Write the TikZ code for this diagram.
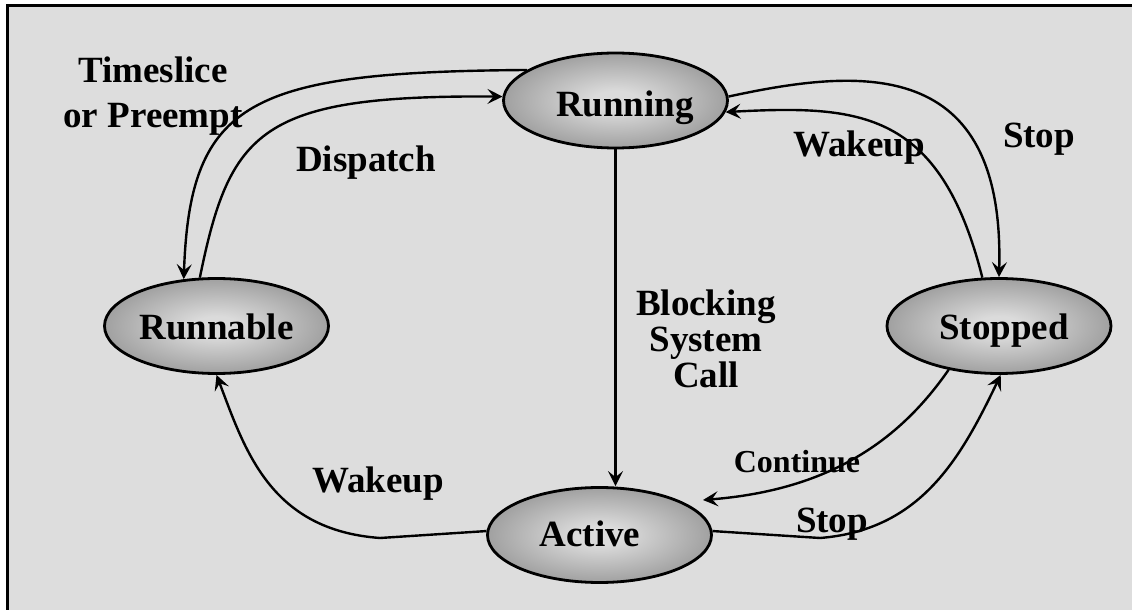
\documentclass[tikz,border=0pt]{standalone}
\usepackage{fontspec}
\setmainfont{Liberation Serif}
\usetikzlibrary{shapes.geometric,arrows.meta,calc}

\definecolor{panel}{gray}{0.867}
\definecolor{shadein}{gray}{0.86}
\definecolor{shadeout}{gray}{0.34}
\pgfdeclareradialshading{stateshade}{\pgfpoint{0bp}{0bp}}{%
  color(0bp)=(shadein); color(5bp)=(shadein); color(50bp)=(shadeout)}

\begin{document}
\begin{tikzpicture}[x=0.5pt,y=-0.5pt,
  state/.style={ellipse, draw=black, line width=1.4pt, shading=stateshade,
                inner sep=0pt, minimum width=112pt, minimum height=47.5pt},
  lbl/.style={font=\fontsize{18.5}{18}\selectfont\bfseries, align=center, inner sep=0pt},
  small/.style={font=\fontsize{16}{16}\selectfont\bfseries, inner sep=0pt},
  conn/.style={line width=1.2pt, -{Stealth[length=7.5pt,width=7.5pt,inset=3pt]}}
]
\useasboundingbox (0,0) rectangle (1132,610);
\fill[white] (0,0) rectangle (1132,610);
\draw[line width=1.5pt, fill=panel] (7.5,5.5) rectangle (1145,625);

% states
\node[state, label={[name=runT, lbl, xshift=4.75pt, yshift=-3.75pt]center:Running}]
      (run) at (615.5,100.5) {};
\node[state, label={[name=rnbT, lbl, yshift=-0.5pt]center:Runnable}]
      (rnb) at (216.5,326) {};
\node[state, label={[name=stpT, lbl, xshift=2.5pt, yshift=-2.5pt]center:Stopped}]
      (stp) at (999,326) {};
\node[state, label={[name=actT, lbl, xshift=-4.75pt, yshift=0.5pt]center:Active}]
      (act) at (599.5,535) {};

\coordinate (contEnd) at (703,500);

% transitions
\draw[conn] (run.161) .. controls (250,72) and (190,100) .. (rnb.125);
\draw[conn] (rnb.109) .. controls (230,130) and (260,95) .. (run.178);
\draw[conn] (run.south) -- (run.south |- act.north);
\draw[conn] (run.2) .. controls (860,68) and (1005,55) .. (stp.north);
\draw[conn] (stp.109) .. controls (940,110) and (860,105) .. (run.-6);
\draw[conn] (act.178) -- (380,538) .. controls (270,530) and (245,450) .. (rnb.south);
\draw[conn] (stp.221) .. controls (900,440) and (830,490) .. (contEnd);
\draw[conn] (act.2) -- (820,538) .. controls (920,530) and (960,460) .. (stp.-88);

% transition labels (anchored at the baseline of their last line)
\node[lbl, anchor=base] (tsL) at (153,128) {Timeslice\\[4.5pt]or Preempt};
\node[lbl, anchor=base] (dispL) at (366,172) {Dispatch};
\node[lbl, anchor=base] (wakeTL) at (859,157) {Wakeup};
\node[lbl, anchor=base] (stopTL) at (1039,148) {Stop};
\node[lbl, anchor=base] (blockL) at (706,387) {Blocking\\System\\Call};
\node[lbl, anchor=base] (wakeBL) at (378,492) {Wakeup};
\node[small, anchor=base] (contL) at (797,473) {Continue};
\node[lbl, anchor=base] (stopBL) at (832,532) {Stop};
\end{tikzpicture}
\end{document}
